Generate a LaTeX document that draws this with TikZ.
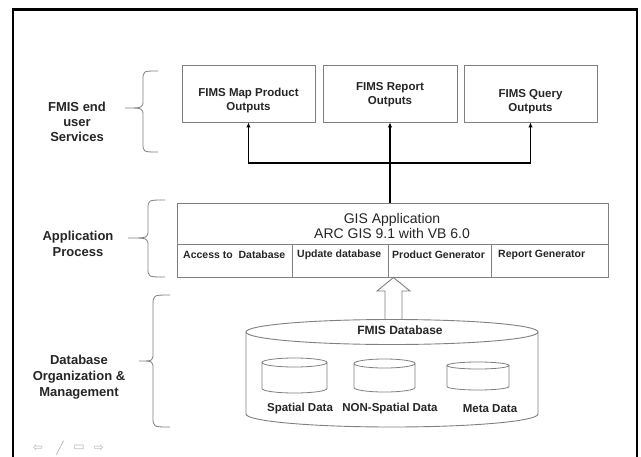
\documentclass[tikz,border=0pt]{standalone}
\usepackage{fontspec}
\setmainfont{Liberation Sans}
\newfontfamily\symfont{DejaVu Sans}
\usetikzlibrary{arrows.meta}
\definecolor{boxgray}{gray}{0.5}
\definecolor{txt}{gray}{0.15}
\definecolor{navgray}{gray}{0.72}
\begin{document}
\begin{tikzpicture}[x=1pt,y=-1pt,
  outbox/.style={draw=boxgray, line width=0.9pt, inner sep=0pt, fill=white},
  boxtext/.style={font=\fontsize{11.5}{14}\selectfont\bfseries, align=center, text=txt, inner sep=0pt},
  sidelabel/.style={font=\fontsize{13}{16}\selectfont\bfseries, align=center, text=txt, inner sep=0pt},
  celltext/.style={font=\fontsize{10.5}{12}\selectfont\bfseries, text=txt, inner sep=0pt, anchor=west},
  bracepath/.style={draw=boxgray, line width=0.8pt},
  conn/.style={draw=black, line width=1.1pt},
  arr/.style={conn, -{Latex[length=5pt,width=4.5pt]}},
  cyl/.style={draw=boxgray, line width=0.8pt},
  navicon/.style={font=\symfont\fontsize{12}{14}\selectfont, text=navgray, inner sep=0pt}]
\useasboundingbox (0,0) rectangle (641,456);
\fill[white] (0,0) rectangle (641,456);
\begin{scope}
\clip (0,0) rectangle (641,456);
\draw[line width=2.5pt] (13,470) -- (13,9.5) -- (637,9.5) -- (637,470);
\end{scope}

% top output boxes
\node[outbox, minimum width=133, minimum height=57] (b1) at (248.5,93.5) {};
\node[outbox, minimum width=134, minimum height=57] (b2) at (390,93.5) {};
\node[outbox, minimum width=133, minimum height=57] (b3) at (530.5,93.5) {};
\node[boxtext] (b1t) at (248.5,100.5) {FIMS Map Product\\Outputs};
\node[boxtext] (b2t) at (390,95) {FIMS Report\\Outputs};
\node[boxtext] (b3t) at (530.5,101.5) {FIMS Query\\Outputs};

% GIS application box
\node[outbox, minimum width=431, minimum height=74] (gis) at (392.5,240) {};
\draw[draw=boxgray, line width=0.9pt] (gis.west |- 0,244) -- (gis.east |- 0,244);
\draw[draw=boxgray, line width=0.9pt] (292,244) -- (292,277);
\draw[draw=boxgray, line width=0.9pt] (388,244) -- (388,277);
\draw[draw=boxgray, line width=0.9pt] (491,244) -- (491,277);
\node[font=\fontsize{14}{15}\selectfont, align=center, text=txt, inner sep=0pt] (gist) at (392,225.5) {GIS Application\\ARC GIS 9.1 with VB 6.0};
\node[celltext] (c1) at (183,255) {Access to\ \ Database};
\node[celltext] (c2) at (297,255) {Update database};
\node[celltext] (c3) at (392,255) {Product Generator};
\node[celltext] (c4) at (498,255) {Report Generator};

% connectors
\coordinate (j) at (390,163);
\draw[conn] (j |- gis.north) -- (j);
\draw[arr] (j) -- (b2.south);
\draw[arr] (j) -| (b1.south);
\draw[arr] (j) -| (b3.south);

% hollow arrow
\draw[cyl, fill=white, line width=0.9pt] (385,321) -- (385,291) -- (377,291) -- (393.5,277.5) -- (410,291) -- (402,291) -- (402,321);

% big database cylinder
\draw[cyl, line width=0.9pt] (246,332) -- (246,414) arc[start angle=180, end angle=0, x radius=146, y radius=13] -- (538,332);
\draw[cyl, line width=0.9pt, fill=white] (392,332) ellipse[x radius=146, y radius=12.5];
\node[boxtext, font=\fontsize{12}{14}\selectfont\bfseries] (dbt) at (400,330) {FMIS Database};

% small cylinders
\draw[cyl] (262,362.5) -- (262,388.5) arc[start angle=180, end angle=0, x radius=32.5, y radius=4.5] -- (327,362.5);
\draw[cyl] (294.5,362.5) ellipse[x radius=32.5, y radius=4.5];
\draw[cyl] (354,363.5) -- (354,387.5) arc[start angle=180, end angle=0, x radius=30.5, y radius=4.5] -- (415,363.5);
\draw[cyl] (384.5,363.5) ellipse[x radius=30.5, y radius=4.5];
\draw[cyl] (447,365.5) -- (447,386.5) arc[start angle=180, end angle=0, x radius=31, y radius=3.5] -- (509,365.5);
\draw[cyl] (478,365.5) ellipse[x radius=31, y radius=3.5];
\node[boxtext] (s1) at (300,409) {Spatial Data};
\node[boxtext] (s2) at (390,409) {NON-Spatial Data};
\node[boxtext] (s3) at (490,409) {Meta Data};

% braces
\draw[bracepath] (158,71) .. controls (143,71) .. (143,80) -- (143,100) .. controls (143,108) .. (125,108) .. controls (143,108) .. (143,116) -- (143,143) .. controls (143,152) .. (158,152);
\draw[bracepath] (165,200) .. controls (148,200) .. (148,209) -- (148,230) .. controls (148,238) .. (128,238) .. controls (148,238) .. (148,246) -- (148,268) .. controls (148,277) .. (165,277);
\draw[bracepath] (170,295) .. controls (153,295) .. (153,305) -- (153,353) .. controls (153,361) .. (139,361) .. controls (153,361) .. (153,369) -- (153,417) .. controls (153,427) .. (170,427);

% side labels
\node[sidelabel, font=\fontsize{13}{15}\selectfont\bfseries] (l1) at (77,122) {FMIS end\\user\\Services};
\node[sidelabel] (l2) at (78,244) {Application\\Process};
\node[sidelabel] (l3) at (79,377) {Database\\Organization \&\\Management};

% slide navigation icons
\node[navicon] (n1) at (38,448) {⇦};
\node[navicon] (n2) at (60,448) {╱};
\node[navicon] (n3) at (79,448) {▭};
\node[navicon] (n4) at (99,448) {⇨};
\end{tikzpicture}
\end{document}
